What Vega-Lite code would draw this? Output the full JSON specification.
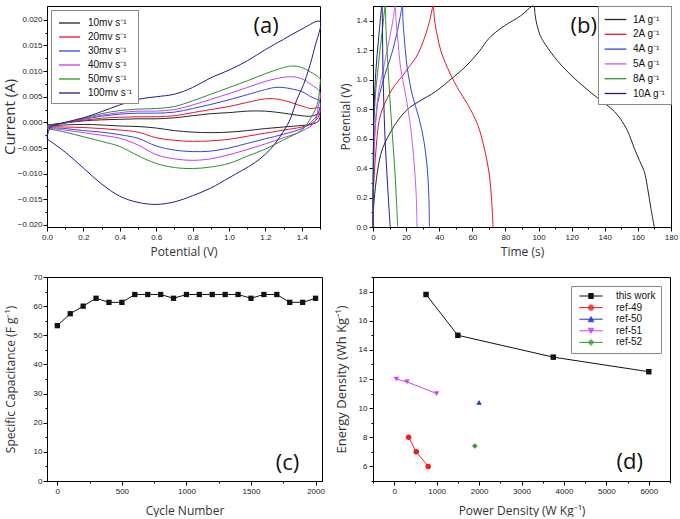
{
"$schema": "https://vega.github.io/schema/vega-lite/v6.json",
"padding": {"left": 1, "top": 3, "right": 0, "bottom": 0},
"columns": 2,
"spacing": {"row": 50, "column": 51},
"bounds": "flush",
"resolve": {"scale": {"color": "independent", "shape": "independent"}, "legend": {"color": "independent", "shape": "independent"}},
"datasets": {
"cv": [
{"s":"10mv s⁻¹","i":0,"V":0,"I":-0.0005},{"s":"10mv s⁻¹","i":1,"V":0.1,"I":-0.0001},{"s":"10mv s⁻¹","i":2,"V":0.2,"I":0.0003},{"s":"10mv s⁻¹","i":3,"V":0.3,"I":0.0005},{"s":"10mv s⁻¹","i":4,"V":0.4,"I":0.0006},{"s":"10mv s⁻¹","i":5,"V":0.5,"I":0.0007},{"s":"10mv s⁻¹","i":6,"V":0.6,"I":0.0007},{"s":"10mv s⁻¹","i":7,"V":0.7,"I":0.0009},{"s":"10mv s⁻¹","i":8,"V":0.8,"I":0.0013},{"s":"10mv s⁻¹","i":9,"V":0.9,"I":0.0017},{"s":"10mv s⁻¹","i":10,"V":1.0,"I":0.0019},{"s":"10mv s⁻¹","i":11,"V":1.1,"I":0.0022},{"s":"10mv s⁻¹","i":12,"V":1.2,"I":0.0022},{"s":"10mv s⁻¹","i":13,"V":1.3,"I":0.0018},{"s":"10mv s⁻¹","i":14,"V":1.4,"I":0.0013},{"s":"10mv s⁻¹","i":15,"V":1.45,"I":0.0012},{"s":"10mv s⁻¹","i":16,"V":1.5,"I":0.0016},{"s":"10mv s⁻¹","i":17,"V":1.49,"I":0.0002},{"s":"10mv s⁻¹","i":18,"V":1.45,"I":-0.0004},{"s":"10mv s⁻¹","i":19,"V":1.4,"I":-0.0006},{"s":"10mv s⁻¹","i":20,"V":1.3,"I":-0.0009},{"s":"10mv s⁻¹","i":21,"V":1.2,"I":-0.0012},{"s":"10mv s⁻¹","i":22,"V":1.1,"I":-0.0016},{"s":"10mv s⁻¹","i":23,"V":1.0,"I":-0.0019},{"s":"10mv s⁻¹","i":24,"V":0.9,"I":-0.0020},{"s":"10mv s⁻¹","i":25,"V":0.8,"I":-0.0019},{"s":"10mv s⁻¹","i":26,"V":0.7,"I":-0.0016},{"s":"10mv s⁻¹","i":27,"V":0.6,"I":-0.0011},{"s":"10mv s⁻¹","i":28,"V":0.5,"I":-0.0008},{"s":"10mv s⁻¹","i":29,"V":0.4,"I":-0.0007},{"s":"10mv s⁻¹","i":30,"V":0.3,"I":-0.0005},{"s":"10mv s⁻¹","i":31,"V":0.2,"I":-0.0004},{"s":"10mv s⁻¹","i":32,"V":0.1,"I":-0.0005},{"s":"10mv s⁻¹","i":33,"V":0,"I":-0.0007},
{"s":"20mv s⁻¹","i":0,"V":0,"I":-0.0006},{"s":"20mv s⁻¹","i":1,"V":0.1,"I":-0.0001},{"s":"20mv s⁻¹","i":2,"V":0.2,"I":0.0004},{"s":"20mv s⁻¹","i":3,"V":0.3,"I":0.0008},{"s":"20mv s⁻¹","i":4,"V":0.4,"I":0.0010},{"s":"20mv s⁻¹","i":5,"V":0.5,"I":0.0011},{"s":"20mv s⁻¹","i":6,"V":0.6,"I":0.0011},{"s":"20mv s⁻¹","i":7,"V":0.7,"I":0.0013},{"s":"20mv s⁻¹","i":8,"V":0.8,"I":0.0019},{"s":"20mv s⁻¹","i":9,"V":0.9,"I":0.0025},{"s":"20mv s⁻¹","i":10,"V":1.0,"I":0.0031},{"s":"20mv s⁻¹","i":11,"V":1.1,"I":0.0039},{"s":"20mv s⁻¹","i":12,"V":1.2,"I":0.0046},{"s":"20mv s⁻¹","i":13,"V":1.25,"I":0.0046},{"s":"20mv s⁻¹","i":14,"V":1.3,"I":0.0043},{"s":"20mv s⁻¹","i":15,"V":1.4,"I":0.0032},{"s":"20mv s⁻¹","i":16,"V":1.45,"I":0.0027},{"s":"20mv s⁻¹","i":17,"V":1.5,"I":0.0028},{"s":"20mv s⁻¹","i":18,"V":1.49,"I":0.0010},{"s":"20mv s⁻¹","i":19,"V":1.45,"I":-0.0003},{"s":"20mv s⁻¹","i":20,"V":1.4,"I":-0.0009},{"s":"20mv s⁻¹","i":21,"V":1.3,"I":-0.0015},{"s":"20mv s⁻¹","i":22,"V":1.2,"I":-0.0021},{"s":"20mv s⁻¹","i":23,"V":1.1,"I":-0.0027},{"s":"20mv s⁻¹","i":24,"V":1.0,"I":-0.0033},{"s":"20mv s⁻¹","i":25,"V":0.9,"I":-0.0036},{"s":"20mv s⁻¹","i":26,"V":0.8,"I":-0.0037},{"s":"20mv s⁻¹","i":27,"V":0.7,"I":-0.0035},{"s":"20mv s⁻¹","i":28,"V":0.6,"I":-0.0030},{"s":"20mv s⁻¹","i":29,"V":0.5,"I":-0.0019},{"s":"20mv s⁻¹","i":30,"V":0.4,"I":-0.0015},{"s":"20mv s⁻¹","i":31,"V":0.3,"I":-0.0012},{"s":"20mv s⁻¹","i":32,"V":0.2,"I":-0.0010},{"s":"20mv s⁻¹","i":33,"V":0.1,"I":-0.0009},{"s":"20mv s⁻¹","i":34,"V":0,"I":-0.0008},
{"s":"30mv s⁻¹","i":0,"V":0,"I":-0.0007},{"s":"30mv s⁻¹","i":1,"V":0.1,"I":-0.0001},{"s":"30mv s⁻¹","i":2,"V":0.2,"I":0.0006},{"s":"30mv s⁻¹","i":3,"V":0.3,"I":0.0012},{"s":"30mv s⁻¹","i":4,"V":0.4,"I":0.0016},{"s":"30mv s⁻¹","i":5,"V":0.5,"I":0.0018},{"s":"30mv s⁻¹","i":6,"V":0.6,"I":0.0018},{"s":"30mv s⁻¹","i":7,"V":0.7,"I":0.0020},{"s":"30mv s⁻¹","i":8,"V":0.8,"I":0.0027},{"s":"30mv s⁻¹","i":9,"V":0.9,"I":0.0035},{"s":"30mv s⁻¹","i":10,"V":1.0,"I":0.0044},{"s":"30mv s⁻¹","i":11,"V":1.1,"I":0.0054},{"s":"30mv s⁻¹","i":12,"V":1.2,"I":0.0064},{"s":"30mv s⁻¹","i":13,"V":1.25,"I":0.0068},{"s":"30mv s⁻¹","i":14,"V":1.3,"I":0.0068},{"s":"30mv s⁻¹","i":15,"V":1.4,"I":0.0060},{"s":"30mv s⁻¹","i":16,"V":1.45,"I":0.0050},{"s":"30mv s⁻¹","i":17,"V":1.5,"I":0.0040},{"s":"30mv s⁻¹","i":18,"V":1.49,"I":0.0018},{"s":"30mv s⁻¹","i":19,"V":1.45,"I":0.0000},{"s":"30mv s⁻¹","i":20,"V":1.4,"I":-0.0012},{"s":"30mv s⁻¹","i":21,"V":1.3,"I":-0.0023},{"s":"30mv s⁻¹","i":22,"V":1.2,"I":-0.0032},{"s":"30mv s⁻¹","i":23,"V":1.1,"I":-0.0041},{"s":"30mv s⁻¹","i":24,"V":1.0,"I":-0.0050},{"s":"30mv s⁻¹","i":25,"V":0.9,"I":-0.0056},{"s":"30mv s⁻¹","i":26,"V":0.8,"I":-0.0057},{"s":"30mv s⁻¹","i":27,"V":0.7,"I":-0.0054},{"s":"30mv s⁻¹","i":28,"V":0.6,"I":-0.0046},{"s":"30mv s⁻¹","i":29,"V":0.5,"I":-0.0031},{"s":"30mv s⁻¹","i":30,"V":0.4,"I":-0.0024},{"s":"30mv s⁻¹","i":31,"V":0.3,"I":-0.0019},{"s":"30mv s⁻¹","i":32,"V":0.2,"I":-0.0016},{"s":"30mv s⁻¹","i":33,"V":0.1,"I":-0.0012},{"s":"30mv s⁻¹","i":34,"V":0,"I":-0.0010},
{"s":"40mv s⁻¹","i":0,"V":0,"I":-0.0008},{"s":"40mv s⁻¹","i":1,"V":0.1,"I":-0.0001},{"s":"40mv s⁻¹","i":2,"V":0.2,"I":0.0007},{"s":"40mv s⁻¹","i":3,"V":0.3,"I":0.0014},{"s":"40mv s⁻¹","i":4,"V":0.4,"I":0.0019},{"s":"40mv s⁻¹","i":5,"V":0.5,"I":0.0022},{"s":"40mv s⁻¹","i":6,"V":0.6,"I":0.0022},{"s":"40mv s⁻¹","i":7,"V":0.7,"I":0.0025},{"s":"40mv s⁻¹","i":8,"V":0.8,"I":0.0034},{"s":"40mv s⁻¹","i":9,"V":0.9,"I":0.0045},{"s":"40mv s⁻¹","i":10,"V":1.0,"I":0.0056},{"s":"40mv s⁻¹","i":11,"V":1.1,"I":0.0068},{"s":"40mv s⁻¹","i":12,"V":1.2,"I":0.0080},{"s":"40mv s⁻¹","i":13,"V":1.3,"I":0.0088},{"s":"40mv s⁻¹","i":14,"V":1.35,"I":0.0089},{"s":"40mv s⁻¹","i":15,"V":1.4,"I":0.0085},{"s":"40mv s⁻¹","i":16,"V":1.45,"I":0.0074},{"s":"40mv s⁻¹","i":17,"V":1.5,"I":0.0059},{"s":"40mv s⁻¹","i":18,"V":1.49,"I":0.0030},{"s":"40mv s⁻¹","i":19,"V":1.47,"I":0.0000},{"s":"40mv s⁻¹","i":20,"V":1.4,"I":-0.0017},{"s":"40mv s⁻¹","i":21,"V":1.3,"I":-0.0030},{"s":"40mv s⁻¹","i":22,"V":1.2,"I":-0.0042},{"s":"40mv s⁻¹","i":23,"V":1.1,"I":-0.0053},{"s":"40mv s⁻¹","i":24,"V":1.0,"I":-0.0063},{"s":"40mv s⁻¹","i":25,"V":0.9,"I":-0.0071},{"s":"40mv s⁻¹","i":26,"V":0.8,"I":-0.0074},{"s":"40mv s⁻¹","i":27,"V":0.7,"I":-0.0071},{"s":"40mv s⁻¹","i":28,"V":0.6,"I":-0.0063},{"s":"40mv s⁻¹","i":29,"V":0.5,"I":-0.0044},{"s":"40mv s⁻¹","i":30,"V":0.4,"I":-0.0031},{"s":"40mv s⁻¹","i":31,"V":0.3,"I":-0.0025},{"s":"40mv s⁻¹","i":32,"V":0.2,"I":-0.0020},{"s":"40mv s⁻¹","i":33,"V":0.1,"I":-0.0015},{"s":"40mv s⁻¹","i":34,"V":0,"I":-0.0011},
{"s":"50mv s⁻¹","i":0,"V":0,"I":-0.0008},{"s":"50mv s⁻¹","i":1,"V":0.1,"I":0.0000},{"s":"50mv s⁻¹","i":2,"V":0.2,"I":0.0008},{"s":"50mv s⁻¹","i":3,"V":0.3,"I":0.0017},{"s":"50mv s⁻¹","i":4,"V":0.4,"I":0.0023},{"s":"50mv s⁻¹","i":5,"V":0.5,"I":0.0026},{"s":"50mv s⁻¹","i":6,"V":0.6,"I":0.0027},{"s":"50mv s⁻¹","i":7,"V":0.7,"I":0.0031},{"s":"50mv s⁻¹","i":8,"V":0.8,"I":0.0042},{"s":"50mv s⁻¹","i":9,"V":0.9,"I":0.0055},{"s":"50mv s⁻¹","i":10,"V":1.0,"I":0.0068},{"s":"50mv s⁻¹","i":11,"V":1.1,"I":0.0081},{"s":"50mv s⁻¹","i":12,"V":1.2,"I":0.0095},{"s":"50mv s⁻¹","i":13,"V":1.3,"I":0.0107},{"s":"50mv s⁻¹","i":14,"V":1.35,"I":0.0110},{"s":"50mv s⁻¹","i":15,"V":1.4,"I":0.0107},{"s":"50mv s⁻¹","i":16,"V":1.45,"I":0.0098},{"s":"50mv s⁻¹","i":17,"V":1.5,"I":0.0085},{"s":"50mv s⁻¹","i":18,"V":1.5,"I":0.0074},{"s":"50mv s⁻¹","i":19,"V":1.485,"I":0.0035},{"s":"50mv s⁻¹","i":20,"V":1.44,"I":0.0003},{"s":"50mv s⁻¹","i":21,"V":1.4,"I":-0.0015},{"s":"50mv s⁻¹","i":22,"V":1.3,"I":-0.0034},{"s":"50mv s⁻¹","i":23,"V":1.2,"I":-0.0052},{"s":"50mv s⁻¹","i":24,"V":1.1,"I":-0.0066},{"s":"50mv s⁻¹","i":25,"V":1.0,"I":-0.0080},{"s":"50mv s⁻¹","i":26,"V":0.9,"I":-0.0087},{"s":"50mv s⁻¹","i":27,"V":0.8,"I":-0.0090},{"s":"50mv s⁻¹","i":28,"V":0.7,"I":-0.0088},{"s":"50mv s⁻¹","i":29,"V":0.6,"I":-0.0080},{"s":"50mv s⁻¹","i":30,"V":0.5,"I":-0.0065},{"s":"50mv s⁻¹","i":31,"V":0.4,"I":-0.0047},{"s":"50mv s⁻¹","i":32,"V":0.3,"I":-0.0037},{"s":"50mv s⁻¹","i":33,"V":0.2,"I":-0.0028},{"s":"50mv s⁻¹","i":34,"V":0.1,"I":-0.0019},{"s":"50mv s⁻¹","i":35,"V":0,"I":-0.0012},
{"s":"100mv s⁻¹","i":0,"V":0,"I":-0.0031},{"s":"100mv s⁻¹","i":1,"V":0.02,"I":-0.0009},{"s":"100mv s⁻¹","i":2,"V":0.1,"I":0.0000},{"s":"100mv s⁻¹","i":3,"V":0.2,"I":0.0009},{"s":"100mv s⁻¹","i":4,"V":0.3,"I":0.0021},{"s":"100mv s⁻¹","i":5,"V":0.4,"I":0.0034},{"s":"100mv s⁻¹","i":6,"V":0.5,"I":0.0045},{"s":"100mv s⁻¹","i":7,"V":0.6,"I":0.0050},{"s":"100mv s⁻¹","i":8,"V":0.7,"I":0.0055},{"s":"100mv s⁻¹","i":9,"V":0.8,"I":0.0068},{"s":"100mv s⁻¹","i":10,"V":0.9,"I":0.0087},{"s":"100mv s⁻¹","i":11,"V":1.0,"I":0.0102},{"s":"100mv s⁻¹","i":12,"V":1.1,"I":0.0120},{"s":"100mv s⁻¹","i":13,"V":1.2,"I":0.0142},{"s":"100mv s⁻¹","i":14,"V":1.3,"I":0.0162},{"s":"100mv s⁻¹","i":15,"V":1.4,"I":0.0182},{"s":"100mv s⁻¹","i":16,"V":1.5,"I":0.0197},{"s":"100mv s⁻¹","i":17,"V":1.47,"I":0.0145},{"s":"100mv s⁻¹","i":18,"V":1.44,"I":0.0106},{"s":"100mv s⁻¹","i":19,"V":1.41,"I":0.0074},{"s":"100mv s⁻¹","i":20,"V":1.37,"I":0.0042},{"s":"100mv s⁻¹","i":21,"V":1.34,"I":0.0009},{"s":"100mv s⁻¹","i":22,"V":1.3,"I":-0.0017},{"s":"100mv s⁻¹","i":23,"V":1.25,"I":-0.0043},{"s":"100mv s⁻¹","i":24,"V":1.2,"I":-0.0062},{"s":"100mv s⁻¹","i":25,"V":1.14,"I":-0.0079},{"s":"100mv s⁻¹","i":26,"V":1.07,"I":-0.0094},{"s":"100mv s⁻¹","i":27,"V":1.0,"I":-0.0108},{"s":"100mv s⁻¹","i":28,"V":0.9,"I":-0.0128},{"s":"100mv s⁻¹","i":29,"V":0.8,"I":-0.0143},{"s":"100mv s⁻¹","i":30,"V":0.7,"I":-0.0155},{"s":"100mv s⁻¹","i":31,"V":0.6,"I":-0.0160},{"s":"100mv s⁻¹","i":32,"V":0.5,"I":-0.0156},{"s":"100mv s⁻¹","i":33,"V":0.4,"I":-0.0144},{"s":"100mv s⁻¹","i":34,"V":0.3,"I":-0.0120},{"s":"100mv s⁻¹","i":35,"V":0.2,"I":-0.0089},{"s":"100mv s⁻¹","i":36,"V":0.1,"I":-0.0058},{"s":"100mv s⁻¹","i":37,"V":0,"I":-0.0032}
],
"gcd": [
{"s":"1A g⁻¹","i":0,"t":0,"V":0},{"s":"1A g⁻¹","i":1,"t":0.3,"V":0.12},{"s":"1A g⁻¹","i":2,"t":1,"V":0.22},{"s":"1A g⁻¹","i":3,"t":2,"V":0.32},{"s":"1A g⁻¹","i":4,"t":3.6,"V":0.44},{"s":"1A g⁻¹","i":5,"t":6,"V":0.54},{"s":"1A g⁻¹","i":6,"t":9.7,"V":0.625},{"s":"1A g⁻¹","i":7,"t":13,"V":0.69},{"s":"1A g⁻¹","i":8,"t":17.7,"V":0.761},{"s":"1A g⁻¹","i":9,"t":22,"V":0.81},{"s":"1A g⁻¹","i":10,"t":27.8,"V":0.852},{"s":"1A g⁻¹","i":11,"t":37.9,"V":0.92},{"s":"1A g⁻¹","i":12,"t":47.9,"V":1.011},{"s":"1A g⁻¹","i":13,"t":56,"V":1.09},{"s":"1A g⁻¹","i":14,"t":64,"V":1.19},{"s":"1A g⁻¹","i":15,"t":70,"V":1.28},{"s":"1A g⁻¹","i":16,"t":75,"V":1.33},{"s":"1A g⁻¹","i":17,"t":80,"V":1.37},{"s":"1A g⁻¹","i":18,"t":89,"V":1.432},{"s":"1A g⁻¹","i":19,"t":97,"V":1.5},{"s":"1A g⁻¹","i":20,"t":97.8,"V":1.45},{"s":"1A g⁻¹","i":21,"t":98.5,"V":1.4},{"s":"1A g⁻¹","i":22,"t":101,"V":1.3},{"s":"1A g⁻¹","i":23,"t":105.5,"V":1.216},{"s":"1A g⁻¹","i":24,"t":113.6,"V":1.1},{"s":"1A g⁻¹","i":25,"t":123.6,"V":0.989},{"s":"1A g⁻¹","i":26,"t":135.7,"V":0.875},{"s":"1A g⁻¹","i":27,"t":145.8,"V":0.784},{"s":"1A g⁻¹","i":28,"t":151.8,"V":0.693},{"s":"1A g⁻¹","i":29,"t":155,"V":0.62},{"s":"1A g⁻¹","i":30,"t":157.8,"V":0.534},{"s":"1A g⁻¹","i":31,"t":161,"V":0.45},{"s":"1A g⁻¹","i":32,"t":163.9,"V":0.375},{"s":"1A g⁻¹","i":33,"t":165.9,"V":0.261},{"s":"1A g⁻¹","i":34,"t":167.9,"V":0.125},{"s":"1A g⁻¹","i":35,"t":169.9,"V":0},
{"s":"2A g⁻¹","i":0,"t":0,"V":0},{"s":"2A g⁻¹","i":1,"t":0.2,"V":0.2},{"s":"2A g⁻¹","i":2,"t":0.5,"V":0.3},{"s":"2A g⁻¹","i":3,"t":1,"V":0.4},{"s":"2A g⁻¹","i":4,"t":2,"V":0.55},{"s":"2A g⁻¹","i":5,"t":3.6,"V":0.716},{"s":"2A g⁻¹","i":6,"t":6,"V":0.81},{"s":"2A g⁻¹","i":7,"t":9.7,"V":0.898},{"s":"2A g⁻¹","i":8,"t":13,"V":0.96},{"s":"2A g⁻¹","i":9,"t":17.7,"V":1.023},{"s":"2A g⁻¹","i":10,"t":22,"V":1.09},{"s":"2A g⁻¹","i":11,"t":25.8,"V":1.148},{"s":"2A g⁻¹","i":12,"t":29,"V":1.22},{"s":"2A g⁻¹","i":13,"t":31.8,"V":1.307},{"s":"2A g⁻¹","i":14,"t":34,"V":1.39},{"s":"2A g⁻¹","i":15,"t":36.4,"V":1.5},{"s":"2A g⁻¹","i":16,"t":36.8,"V":1.45},{"s":"2A g⁻¹","i":17,"t":37.5,"V":1.38},{"s":"2A g⁻¹","i":18,"t":39,"V":1.29},{"s":"2A g⁻¹","i":19,"t":41,"V":1.195},{"s":"2A g⁻¹","i":20,"t":45,"V":1.08},{"s":"2A g⁻¹","i":21,"t":51,"V":0.945},{"s":"2A g⁻¹","i":22,"t":57.2,"V":0.832},{"s":"2A g⁻¹","i":23,"t":63.2,"V":0.695},{"s":"2A g⁻¹","i":24,"t":67.2,"V":0.536},{"s":"2A g⁻¹","i":25,"t":70.3,"V":0.355},{"s":"2A g⁻¹","i":26,"t":71.7,"V":0.173},{"s":"2A g⁻¹","i":27,"t":72.5,"V":0},
{"s":"4A g⁻¹","i":0,"t":0,"V":0},{"s":"4A g⁻¹","i":1,"t":0.2,"V":0.3},{"s":"4A g⁻¹","i":2,"t":0.6,"V":0.5},{"s":"4A g⁻¹","i":3,"t":1.5,"V":0.7},{"s":"4A g⁻¹","i":4,"t":3,"V":0.85},{"s":"4A g⁻¹","i":5,"t":5.6,"V":0.97},{"s":"4A g⁻¹","i":6,"t":8.5,"V":1.08},{"s":"4A g⁻¹","i":7,"t":11.7,"V":1.19},{"s":"4A g⁻¹","i":8,"t":14.5,"V":1.32},{"s":"4A g⁻¹","i":9,"t":16.5,"V":1.43},{"s":"4A g⁻¹","i":10,"t":17.7,"V":1.5},{"s":"4A g⁻¹","i":11,"t":18.1,"V":1.4},{"s":"4A g⁻¹","i":12,"t":18.7,"V":1.307},{"s":"4A g⁻¹","i":13,"t":20.7,"V":1.08},{"s":"4A g⁻¹","i":14,"t":23.7,"V":0.898},{"s":"4A g⁻¹","i":15,"t":27.8,"V":0.738},{"s":"4A g⁻¹","i":16,"t":30.8,"V":0.58},{"s":"4A g⁻¹","i":17,"t":32.8,"V":0.398},{"s":"4A g⁻¹","i":18,"t":33.7,"V":0.216},{"s":"4A g⁻¹","i":19,"t":34.1,"V":0},
{"s":"5A g⁻¹","i":0,"t":0,"V":0},{"s":"5A g⁻¹","i":1,"t":0.2,"V":0.3},{"s":"5A g⁻¹","i":2,"t":0.8,"V":0.55},{"s":"5A g⁻¹","i":3,"t":2,"V":0.78},{"s":"5A g⁻¹","i":4,"t":3.5,"V":0.92},{"s":"5A g⁻¹","i":5,"t":5.5,"V":1.03},{"s":"5A g⁻¹","i":6,"t":7.5,"V":1.14},{"s":"5A g⁻¹","i":7,"t":10,"V":1.28},{"s":"5A g⁻¹","i":8,"t":12,"V":1.4},{"s":"5A g⁻¹","i":9,"t":13.5,"V":1.5},{"s":"5A g⁻¹","i":10,"t":13.9,"V":1.4},{"s":"5A g⁻¹","i":11,"t":14.7,"V":1.307},{"s":"5A g⁻¹","i":12,"t":16.7,"V":1.08},{"s":"5A g⁻¹","i":13,"t":19.7,"V":0.898},{"s":"5A g⁻¹","i":14,"t":22.8,"V":0.67},{"s":"5A g⁻¹","i":15,"t":24.8,"V":0.443},{"s":"5A g⁻¹","i":16,"t":26.1,"V":0.216},{"s":"5A g⁻¹","i":17,"t":26.6,"V":0},
{"s":"8A g⁻¹","i":0,"t":0,"V":0},{"s":"8A g⁻¹","i":1,"t":0.2,"V":0.45},{"s":"8A g⁻¹","i":2,"t":0.6,"V":0.7},{"s":"8A g⁻¹","i":3,"t":1.5,"V":0.9},{"s":"8A g⁻¹","i":4,"t":2.8,"V":1.05},{"s":"8A g⁻¹","i":5,"t":4.2,"V":1.2},{"s":"8A g⁻¹","i":6,"t":5.8,"V":1.35},{"s":"8A g⁻¹","i":7,"t":7.4,"V":1.5},{"s":"8A g⁻¹","i":8,"t":7.7,"V":1.4},{"s":"8A g⁻¹","i":9,"t":8.0,"V":1.307},{"s":"8A g⁻¹","i":10,"t":9.1,"V":1.08},{"s":"8A g⁻¹","i":11,"t":10.3,"V":0.852},{"s":"8A g⁻¹","i":12,"t":11.7,"V":0.625},{"s":"8A g⁻¹","i":13,"t":13.1,"V":0.398},{"s":"8A g⁻¹","i":14,"t":14.2,"V":0.17},{"s":"8A g⁻¹","i":15,"t":14.9,"V":0},
{"s":"10A g⁻¹","i":0,"t":0,"V":0},{"s":"10A g⁻¹","i":1,"t":0.2,"V":0.5},{"s":"10A g⁻¹","i":2,"t":0.6,"V":0.8},{"s":"10A g⁻¹","i":3,"t":1.4,"V":1.0},{"s":"10A g⁻¹","i":4,"t":2.5,"V":1.17},{"s":"10A g⁻¹","i":5,"t":3.8,"V":1.33},{"s":"10A g⁻¹","i":6,"t":5.4,"V":1.5},{"s":"10A g⁻¹","i":7,"t":5.7,"V":1.35},{"s":"10A g⁻¹","i":8,"t":6.0,"V":1.08},{"s":"10A g⁻¹","i":9,"t":7.2,"V":0.625},{"s":"10A g⁻¹","i":10,"t":8.8,"V":0.284},{"s":"10A g⁻¹","i":11,"t":10.4,"V":0}
],
"cyc": [
{"n":0,"c":53.3},{"n":100,"c":57.4},{"n":200,"c":60.0},{"n":300,"c":62.7},{"n":400,"c":61.3},{"n":500,"c":61.3},{"n":600,"c":64.0},{"n":700,"c":64.0},{"n":800,"c":64.0},{"n":900,"c":62.7},{"n":1000,"c":64.0},{"n":1100,"c":64.0},{"n":1200,"c":64.0},{"n":1300,"c":64.0},{"n":1400,"c":64.0},{"n":1500,"c":62.7},{"n":1600,"c":64.0},{"n":1700,"c":64.0},{"n":1800,"c":61.3},{"n":1900,"c":61.3},{"n":2000,"c":62.7}
],
"ed": [
{"s":"this work","pd":750,"en":17.8},{"s":"this work","pd":1500,"en":15.0},{"s":"this work","pd":3750,"en":13.5},{"s":"this work","pd":6000,"en":12.5},
{"s":"ref-49","pd":340,"en":8.0},{"s":"ref-49","pd":520,"en":7.0},{"s":"ref-49","pd":800,"en":6.0},
{"s":"ref-50","pd":2000,"en":10.4},
{"s":"ref-51","pd":50,"en":12.0},{"s":"ref-51","pd":300,"en":11.8},{"s":"ref-51","pd":1000,"en":11.0},
{"s":"ref-52","pd":1900,"en":7.4}
]
},
"concat": [
{
"width": 273, "height": 221,
"layer": [
{"data": {"name": "cv"},
"mark": {"type": "line", "strokeWidth": 1, "interpolate": "catmull-rom"},
"encoding": {
"x": {"field": "V", "type": "quantitative", "scale": {"domain": [0, 1.5], "nice": false, "zero": false},
"axis": {"title": "Potential (V)", "tickCount": 100, "values": [0,0.1,0.2,0.3,0.4,0.5,0.6,0.7,0.8,0.9,1.0,1.1,1.2,1.3,1.4,1.5],
"labelExpr": "round(datum.value*10)%2==0 && datum.value<1.45 ? format(datum.value,'.1f') : ''",
"tickSize": {"condition": {"test": "round(datum.value*10)%2==0", "value": 4}, "value": 2}, "titlePadding": 5}},
"y": {"field": "I", "type": "quantitative", "scale": {"domain": [-0.0204, 0.0227], "nice": false, "zero": false},
"axis": {"title": "Current (A)", "titleFontSize": 15, "tickCount": 100, "labelPadding": 1, "values": [-0.02,-0.0175,-0.015,-0.0125,-0.01,-0.0075,-0.005,-0.0025,0,0.0025,0.005,0.0075,0.01,0.0125,0.015,0.0175,0.02],
"labelExpr": "round(datum.value*400)%2==0 ? format(datum.value,'.3f') : ''",
"tickSize": {"condition": {"test": "round(datum.value*400)%2==0", "value": 4}, "value": 2}, "titlePadding": 0}},
"color": {"field": "s", "type": "nominal",
"scale": {"domain": ["10mv s⁻¹","20mv s⁻¹","30mv s⁻¹","40mv s⁻¹","50mv s⁻¹","100mv s⁻¹"], "range": ["#262626","#e8132b","#3046e0","#c43cf2","#2e8f2e","#1e1e8a"]},
"legend": {"title": null, "orient": "top-left", "offset": 4, "symbolType": "M-1.5,0H1.5", "symbolSize": 196, "symbolStrokeWidth": 1.3, "symbolOffset": 5.5, "labelFont": "Liberation Sans", "labelFontSize": 10, "labelColor": "#111", "strokeColor": "#888", "fillColor": "white", "padding": 5, "rowPadding": 1, "labelOffset": 10.5}},
"order": {"field": "i", "type": "quantitative"}
}},
{"data": {"values": [{"V": 1.204, "I": 0.0188, "lab": "(a)"}]},
"mark": {"type": "text", "font": "Open Sans", "fontSize": 22, "color": "#111", "baseline": "middle", "align": "center"},
"encoding": {"x": {"field": "V", "type": "quantitative"}, "y": {"field": "I", "type": "quantitative"}, "text": {"field": "lab"}}}
]
},
{
"width": 298, "height": 221,
"layer": [
{"data": {"name": "gcd"},
"mark": {"type": "line", "strokeWidth": 1, "interpolate": "catmull-rom"},
"encoding": {
"x": {"field": "t", "type": "quantitative", "scale": {"domain": [0, 180], "nice": false},
"axis": {"title": "Time (s)", "tickCount": 100, "values": [0,10,20,30,40,50,60,70,80,90,100,110,120,130,140,150,160,170,180],
"labelExpr": "datum.value%20==0 ? ''+datum.value : ''",
"tickSize": {"condition": {"test": "datum.value%20==0", "value": 4}, "value": 2}, "titlePadding": 5}},
"y": {"field": "V", "type": "quantitative", "scale": {"domain": [0, 1.5], "nice": false},
"axis": {"title": "Potential (V)", "tickCount": 100, "values": [0,0.1,0.2,0.3,0.4,0.5,0.6,0.7,0.8,0.9,1.0,1.1,1.2,1.3,1.4],
"labelExpr": "round(datum.value*10)%2==0 ? format(datum.value,'.1f') : ''",
"tickSize": {"condition": {"test": "round(datum.value*10)%2==0", "value": 4}, "value": 2}, "titlePadding": 3}},
"color": {"field": "s", "type": "nominal",
"scale": {"domain": ["1A g⁻¹","2A g⁻¹","4A g⁻¹","5A g⁻¹","8A g⁻¹","10A g⁻¹"], "range": ["#262626","#e8132b","#3046e0","#c85ef0","#2e8f2e","#1e1e8a"]},
"legend": {"title": null, "orient": "top-right", "offset": 0, "symbolType": "M-1.45,0H1.45", "symbolSize": 225, "symbolStrokeWidth": 1.3, "symbolOffset": 4, "labelFont": "Liberation Sans", "labelFontSize": 10, "labelColor": "#111", "strokeColor": "#888", "fillColor": "white", "padding": 5, "rowPadding": 0.8, "labelOffset": 9}},
"order": {"field": "i", "type": "quantitative"}
}},
{"data": {"values": [{"t": 127.3, "V": 1.363, "lab": "(b)"}]},
"mark": {"type": "text", "font": "Open Sans", "fontSize": 22, "color": "#111", "baseline": "middle", "align": "center"},
"encoding": {"x": {"field": "t", "type": "quantitative"}, "y": {"field": "V", "type": "quantitative"}, "text": {"field": "lab"}}}
]
},
{
"width": 275, "height": 204,
"layer": [
{"data": {"name": "cyc"},
"mark": {"type": "line", "strokeWidth": 1, "color": "#111", "point": {"shape": "square", "size": 28, "filled": true, "color": "#111"}},
"encoding": {
"x": {"field": "n", "type": "quantitative", "scale": {"domain": [-80, 2050], "nice": false, "zero": false},
"axis": {"title": "Cycle Number", "tickCount": 100, "values": [0,250,500,750,1000,1250,1500,1750,2000],
"labelExpr": "datum.value%500==0 ? ''+datum.value : ''",
"tickSize": {"condition": {"test": "datum.value%500==0", "value": 4}, "value": 2}, "titlePadding": 10}},
"y": {"field": "c", "type": "quantitative", "scale": {"domain": [0, 70], "nice": false},
"axis": {"title": "Specific Capacitance (F g⁻¹)", "tickCount": 100, "labelPadding": 1, "values": [0,5,10,15,20,25,30,35,40,45,50,55,60,65,70],
"labelExpr": "datum.value%10==0 ? ''+datum.value : ''",
"tickSize": {"condition": {"test": "datum.value%10==0", "value": 4}, "value": 2}, "titlePadding": 16}}
}},
{"data": {"values": [{"n": 1782, "c": 6.3, "lab": "(c)"}]},
"mark": {"type": "text", "font": "Open Sans", "fontSize": 22, "color": "#111", "baseline": "middle", "align": "center"},
"encoding": {"x": {"field": "n", "type": "quantitative"}, "y": {"field": "c", "type": "quantitative"}, "text": {"field": "lab"}}}
]
},
{
"width": 297, "height": 204,
"resolve": {"scale": {"color": "independent", "shape": "independent"}},
"layer": [
{"data": {"name": "ed"},
"mark": {"type": "line", "strokeWidth": 1},
"encoding": {
"x": {"field": "pd", "type": "quantitative", "scale": {"domain": [-500, 6500], "nice": false, "zero": false},
"axis": {"title": "Power Density (W Kg⁻¹)", "tickCount": 100, "values": [-500,0,500,1000,1500,2000,2500,3000,3500,4000,4500,5000,5500,6000,6500],
"labelExpr": "datum.value%1000==0 ? ''+datum.value : ''",
"tickSize": {"condition": {"test": "datum.value%1000==0", "value": 4}, "value": 2}, "titlePadding": 10}},
"y": {"field": "en", "type": "quantitative", "scale": {"domain": [5, 19], "nice": false, "zero": false},
"axis": {"title": "Energy Density (Wh Kg⁻¹)", "titleFontSize": 13, "tickCount": 100, "values": [5,6,7,8,9,10,11,12,13,14,15,16,17,18,19],
"labelExpr": "datum.value%2==0 ? ''+datum.value : ''",
"tickSize": {"condition": {"test": "datum.value%2==0", "value": 4}, "value": 2}, "titlePadding": 10}},
"color": {"field": "s", "type": "nominal",
"scale": {"domain": ["this work","ref-49","ref-50","ref-51","ref-52"], "range": ["#111111","#ee1c1c","#2233cc","#cc44ee","#339933"]},
"legend": null}
}},
{"data": {"name": "ed"},
"mark": {"type": "point", "filled": true, "size": 30, "opacity": 1},
"encoding": {
"x": {"field": "pd", "type": "quantitative"},
"y": {"field": "en", "type": "quantitative"},
"color": {"field": "s", "type": "nominal",
"scale": {"domain": ["this work","ref-49","ref-50","ref-51","ref-52"], "range": ["#111111","#ee1c1c","#2233cc","#cc44ee","#339933"]},
"legend": null},
"shape": {"field": "s", "type": "nominal",
"scale": {"domain": ["this work","ref-49","ref-50","ref-51","ref-52"], "range": ["square","circle","triangle-up","triangle-down","diamond"]},
"legend": null}
}},
{"data": {"name": "ed"},
"transform": [{"filter": "false"}],
"mark": {"type": "point", "filled": false},
"encoding": {
"x": {"field": "pd", "type": "quantitative"},
"y": {"field": "en", "type": "quantitative"},
"color": {"field": "s", "type": "nominal",
"scale": {"domain": ["this work","ref-49","ref-50","ref-51","ref-52"], "range": ["#111111","#ee1c1c","#2233cc","#cc44ee","#339933"]},
"legend": {"title": null, "orient": "top-right", "offset": 9, "labelFont": "Liberation Sans", "labelFontSize": 10, "labelColor": "#111", "strokeColor": "#888", "fillColor": "white", "padding": 5, "rowPadding": 1.6, "labelOffset": 20, "symbolSize": 36, "symbolStrokeWidth": 1, "symbolOffset": 10, "symbolOpacity": 1}},
"shape": {"field": "s", "type": "nominal",
"scale": {"domain": ["this work","ref-49","ref-50","ref-51","ref-52"], "range": [
"M-3.9,0H3.9M-0.9,-0.83H0.9M-0.9,-0.5H0.9M-0.9,-0.17H0.9M-0.9,0.17H0.9M-0.9,0.5H0.9M-0.9,0.83H0.9",
"M-3.9,0H3.9M-0.56,-0.83H0.56M-0.87,-0.5H0.87M-0.99,-0.17H0.99M-0.99,0.17H0.99M-0.87,0.5H0.87M-0.56,0.83H0.56",
"M-3.9,0H3.9M-0.15,-0.83H0.15M-0.33,-0.5H0.33M-0.51,-0.17H0.51M-0.7,0.17H0.7M-0.88,0.5H0.88M-1.06,0.83H1.06",
"M-3.9,0H3.9M-1.06,-0.83H1.06M-0.88,-0.5H0.88M-0.7,-0.17H0.7M-0.51,0.17H0.51M-0.33,0.5H0.33M-0.15,0.83H0.15",
"M-3.9,0H3.9M-0.27,-0.83H0.27M-0.6,-0.5H0.6M-0.93,-0.17H0.93M-0.93,0.17H0.93M-0.6,0.5H0.6M-0.27,0.83H0.27"]},
"legend": {"title": null, "orient": "top-right", "offset": 9, "labelFont": "Liberation Sans", "labelFontSize": 10, "labelColor": "#111", "strokeColor": "#888", "fillColor": "white", "padding": 5, "rowPadding": 1.6, "labelOffset": 20, "symbolSize": 36, "symbolStrokeWidth": 1, "symbolOffset": 10, "symbolOpacity": 1}}
}},
{"data": {"values": [{"pd": 5550, "en": 6.27, "lab": "(d)"}]},
"mark": {"type": "text", "font": "Open Sans", "fontSize": 22, "color": "#111", "baseline": "middle", "align": "center"},
"encoding": {"x": {"field": "pd", "type": "quantitative"}, "y": {"field": "en", "type": "quantitative"}, "text": {"field": "lab"}}}
]
}
],
"config": {
"view": {"stroke": "#000", "strokeWidth": 1},
"axis": {"grid": false, "domainColor": "#000", "tickColor": "#000", "labelFont": "Liberation Sans", "labelFontSize": 8, "labelColor": "#222", "labelPadding": 2, "titleFont": "Open Sans", "titleFontSize": 12, "titleFontWeight": "normal", "titleColor": "#333", "labelFlush": false, "labelOverlap": false}
}
}
